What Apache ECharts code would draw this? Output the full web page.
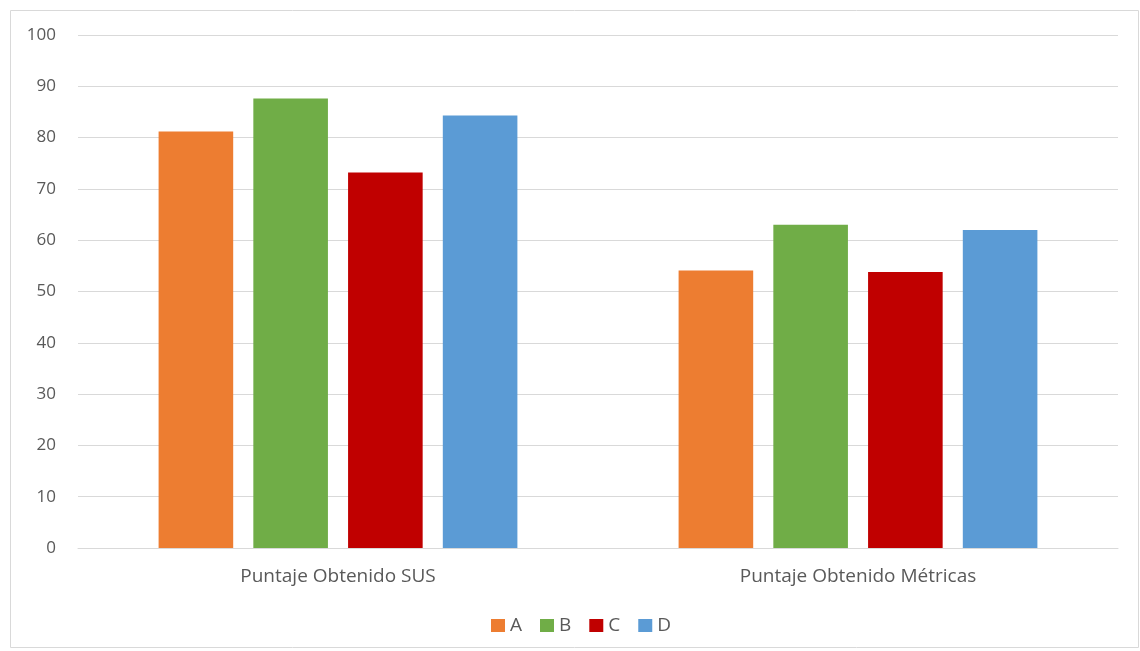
<!DOCTYPE html>
<html><head><meta charset="utf-8">
<script src="https://cdn.jsdelivr.net/npm/echarts@6/dist/echarts.min.js"></script>
<style>html,body{margin:0;padding:0;background:#fff}#c{width:1140px;height:651px}</style>
</head><body><div id="c"></div>
<script>
const categories = ['Puntaje Obtenido SUS', 'Puntaje Obtenido Métricas'];
const seriesNames = ['A', 'B', 'C', 'D'];
const valuesA = [81.2, 54.1];
const valuesB = [87.6, 63.0];
const valuesC = [73.2, 53.8];
const valuesD = [84.3, 62.0];
const colors = ['#ED7D31', '#70AD47', '#C00000', '#5B9BD5'];
const allValues = [valuesA, valuesB, valuesC, valuesD];
const font = 'Open Sans, Noto Sans, sans-serif';
const chart = echarts.init(document.getElementById('c'));
chart.setOption({
  animation: false,
  graphic: [{type: 'rect', shape: {x: 10.5, y: 10.5, width: 1128, height: 637}, style: {fill: 'none', stroke: '#d9d9d9', lineWidth: 1}, silent: true, z: -1}],
  grid: {left: 78, right: 22, top: 35, bottom: 103},
  legend: {
    top: 611, left: 486, itemWidth: 14, itemHeight: 13, itemGap: 18,
    icon: 'rect',
    textStyle: {color: '#595959', fontSize: 19, fontFamily: font},
    data: seriesNames
  },
  xAxis: {
    type: 'category', data: categories,
    axisLine: {lineStyle: {color: '#d9d9d9'}}, axisTick: {show: false},
    axisLabel: {color: '#595959', fontSize: 19, fontFamily: font, margin: 19}
  },
  yAxis: {
    type: 'value', min: 0, max: 100, interval: 10,
    axisLine: {show: false}, axisTick: {show: false},
    splitLine: {lineStyle: {color: '#d9d9d9'}},
    axisLabel: {color: '#595959', fontSize: 17, fontFamily: font, margin: 22}
  },
  series: seriesNames.map((n, i) => ({
    name: n, type: 'bar', data: allValues[i],
    itemStyle: {color: colors[i]},
    barGap: '27%', barCategoryGap: '31%'
  }))
});
</script></body></html>
